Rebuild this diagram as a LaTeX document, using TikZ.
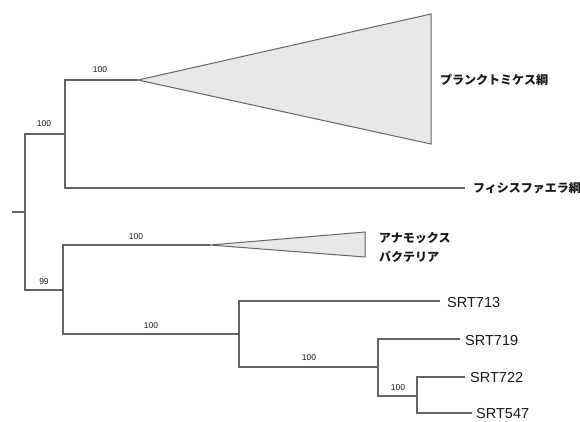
\documentclass[tikz,border=0pt]{standalone}
\usepackage{fontspec}
\setmainfont{Liberation Sans}
\newfontfamily\jpfont{Noto Sans CJK JP}
\definecolor{branch}{RGB}{100,100,100}
\definecolor{cladefill}{RGB}{232,232,232}
\definecolor{labeltext}{RGB}{25,25,25}
\tikzset{
  edge/.style={draw=branch, line width=1.2pt},
  clade/.style={draw=branch, fill=cladefill, line width=1pt, line join=miter},
  support/.style={font=\fontsize{8.5}{9}\selectfont, text=labeltext, inner sep=0pt},
  taxon/.style={font=\fontsize{14.5}{16}\selectfont, text=labeltext, anchor=west, inner sep=0pt},
  group/.style={font=\jpfont\bfseries\fontsize{12}{19}\selectfont, text=labeltext, anchor=west, inner sep=0pt, align=left},
}
\begin{document}
\begin{tikzpicture}[x=1pt,y=-1pt]
\useasboundingbox (0,0) rectangle (580,421);

% internal nodes and branch tips
\coordinate (stub) at (12,212);
\coordinate (root) at (25,212);
\coordinate (nA) at (65,134);
\coordinate (nP) at (138,80);
\coordinate (tF) at (465,188);
\coordinate (nB) at (63,290);
\coordinate (nX) at (210,245);
\coordinate (nS) at (239,334);
\coordinate (t713) at (440,301);
\coordinate (nT) at (378,367);
\coordinate (t719) at (460,339);
\coordinate (nU) at (417,396);
\coordinate (t722) at (465,377);
\coordinate (t547) at (472,413);

% collapsed clades
\coordinate (pTop) at (431,14);
\coordinate (pBot) at (431,144);
\coordinate (xTop) at (365,232);
\coordinate (xBot) at (365,257);
\draw[clade] (nP) -- (pTop) -- (pBot) -- cycle;
\draw[clade] (nX) -- (xTop) -- (xBot) -- cycle;

% branches
\draw[edge] (stub) -- (root);
\draw[edge] (root) |- (nA);
\draw[edge] (root) |- (nB);
\draw[edge] (nA) |- (nP);
\draw[edge] (nA) |- (tF);
\draw[edge] (nB) |- (nX);
\draw[edge] (nB) |- (nS);
\draw[edge] (nS) |- (t713);
\draw[edge] (nS) |- (nT);
\draw[edge] (nT) |- (t719);
\draw[edge] (nT) |- (nU);
\draw[edge] (nU) |- (t722);
\draw[edge] (nU) |- (t547);

% bootstrap support values
\node[support] (bA) at (44,124) {100};
\node[support] (bP) at (100,70) {100};
\node[support] (bB) at (44,282) {99};
\node[support] (bX) at (136,237) {100};
\node[support] (bS) at (151,326) {100};
\node[support] (bT) at (309,358) {100};
\node[support] (bU) at (398,388) {100};

% taxon labels
\node[group] (lP) at (440,80) {プランクトミケス綱};
\node[group] (lF) at (473,188) {フィシスファエラ綱};
\node[group] (lX) at (379,247.5) {アナモックス\\バクテリア};
\node[taxon] (l713) at (447,302) {SRT713};
\node[taxon] (l719) at (465,340) {SRT719};
\node[taxon] (l722) at (470,377) {SRT722};
\node[taxon] (l547) at (476,413) {SRT547};
\end{tikzpicture}
\end{document}
